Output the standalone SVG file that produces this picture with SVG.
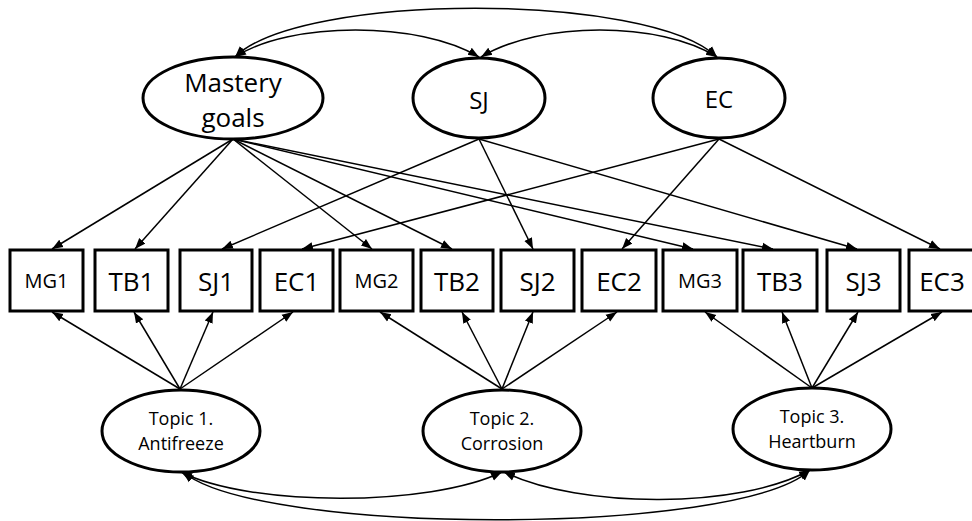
<svg xmlns="http://www.w3.org/2000/svg" width="972" height="521" viewBox="0 0 972 521">
<style>
.node{fill:#fff;stroke:#000;stroke-width:3}
.lbl{font-family:"Open Sans","Liberation Sans",sans-serif;fill:#000;text-anchor:middle}
.big{font-size:26px}
.sm{font-size:20px}
.top{font-size:24px}
.tp{font-size:18px}
.edge{fill:none;stroke:#000;stroke-width:1.5;marker-end:url(#ah)}
.cov{fill:none;stroke:#000;stroke-width:1.5;marker-start:url(#ah);marker-end:url(#ah)}
</style>
<defs>
<marker id="ah" markerUnits="userSpaceOnUse" markerWidth="12" markerHeight="10" viewBox="0 0 12 10" refX="11" refY="5" orient="auto-start-reverse">
<path d="M0,0.8 L11,5 L0,9.2 z" fill="#000"/>
</marker>
</defs>
<g id="connectors">
<path class="cov" d="M235,57 C300,-8 650,-8 717,57"/>
<path class="cov" d="M235,57 C290,21 420,21 479,57"/>
<path class="cov" d="M481,57 C540,21 660,21 717,57"/>
<path class="cov" d="M181,472 C250,507 430,507 502,472"/>
<path class="cov" d="M183,472 C260,536 740,536 810,470"/>
<path class="cov" d="M504,472 C580,509 740,509 810,470"/>
<line class="edge" x1="233" y1="139" x2="52" y2="249"/>
<line class="edge" x1="233" y1="139" x2="135" y2="249"/>
<line class="edge" x1="233" y1="139" x2="372" y2="249"/>
<line class="edge" x1="233" y1="139" x2="452" y2="249"/>
<line class="edge" x1="233" y1="139" x2="693" y2="249"/>
<line class="edge" x1="233" y1="139" x2="773" y2="249"/>
<line class="edge" x1="479" y1="139" x2="222" y2="249"/>
<line class="edge" x1="479" y1="139" x2="533" y2="249"/>
<line class="edge" x1="479" y1="139" x2="857" y2="249"/>
<line class="edge" x1="719" y1="139" x2="302" y2="249"/>
<line class="edge" x1="719" y1="139" x2="622" y2="249"/>
<line class="edge" x1="719" y1="139" x2="940" y2="249"/>
<line class="edge" x1="180" y1="389" x2="52" y2="312"/>
<line class="edge" x1="180" y1="389" x2="134" y2="312"/>
<line class="edge" x1="180" y1="389" x2="213" y2="312"/>
<line class="edge" x1="180" y1="389" x2="293" y2="312"/>
<line class="edge" x1="502" y1="389" x2="380" y2="312"/>
<line class="edge" x1="502" y1="389" x2="462" y2="312"/>
<line class="edge" x1="502" y1="389" x2="533" y2="312"/>
<line class="edge" x1="502" y1="389" x2="617" y2="312"/>
<line class="edge" x1="812" y1="388" x2="705" y2="312"/>
<line class="edge" x1="812" y1="388" x2="782" y2="312"/>
<line class="edge" x1="812" y1="388" x2="858" y2="312"/>
<line class="edge" x1="812" y1="388" x2="942" y2="312"/>
</g>
<g id="MasteryGoals">
<ellipse class="node" cx="233" cy="98" rx="90" ry="41"/>
<text class="lbl big" x="233" y="92">Mastery</text>
<text class="lbl big" x="233" y="127">goals</text>
</g>
<g id="SJ">
<ellipse class="node" cx="479" cy="98" rx="66" ry="40"/>
<text class="lbl top" x="479" y="109">SJ</text>
</g>
<g id="EC">
<ellipse class="node" cx="719" cy="98" rx="66" ry="40"/>
<text class="lbl top" x="719" y="108">EC</text>
</g>
<g id="MG1"><rect class="node" x="10" y="250" width="73" height="61"/><text class="lbl sm" x="46.5" y="288">MG1</text></g>
<g id="TB1"><rect class="node" x="95" y="250" width="73" height="61"/><text class="lbl big" x="131.5" y="291">TB1</text></g>
<g id="SJ1"><rect class="node" x="180" y="250" width="72" height="61"/><text class="lbl big" x="216" y="291">SJ1</text></g>
<g id="EC1"><rect class="node" x="260" y="250" width="73" height="61"/><text class="lbl big" x="296.5" y="291">EC1</text></g>
<g id="MG2"><rect class="node" x="340" y="250" width="73" height="61"/><text class="lbl sm" x="376.5" y="288">MG2</text></g>
<g id="TB2"><rect class="node" x="421" y="250" width="72" height="61"/><text class="lbl big" x="457" y="291">TB2</text></g>
<g id="SJ2"><rect class="node" x="501" y="250" width="73" height="61"/><text class="lbl big" x="537.5" y="291">SJ2</text></g>
<g id="EC2"><rect class="node" x="582" y="250" width="74" height="61"/><text class="lbl big" x="619" y="291">EC2</text></g>
<g id="MG3"><rect class="node" x="663" y="250" width="74" height="61"/><text class="lbl sm" x="700" y="288">MG3</text></g>
<g id="TB3"><rect class="node" x="743" y="250" width="74" height="61"/><text class="lbl big" x="780" y="291">TB3</text></g>
<g id="SJ3"><rect class="node" x="827" y="250" width="73" height="61"/><text class="lbl big" x="863.5" y="291">SJ3</text></g>
<g id="EC3"><rect class="node" x="909" y="250" width="73" height="61"/><text class="lbl big" x="942" y="291">EC3</text></g>
<g id="Topic1">
<ellipse class="node" cx="181" cy="431" rx="79" ry="41"/>
<text class="lbl tp" x="181" y="425">Topic 1.</text>
<text class="lbl tp" x="181" y="450">Antifreeze</text>
</g>
<g id="Topic2">
<ellipse class="node" cx="502" cy="431" rx="79" ry="41"/>
<text class="lbl tp" x="502" y="425">Topic 2.</text>
<text class="lbl tp" x="502" y="450">Corrosion</text>
</g>
<g id="Topic3">
<ellipse class="node" cx="812" cy="429" rx="79" ry="41"/>
<text class="lbl tp" x="812" y="423">Topic 3.</text>
<text class="lbl tp" x="812" y="448">Heartburn</text>
</g>
</svg>
